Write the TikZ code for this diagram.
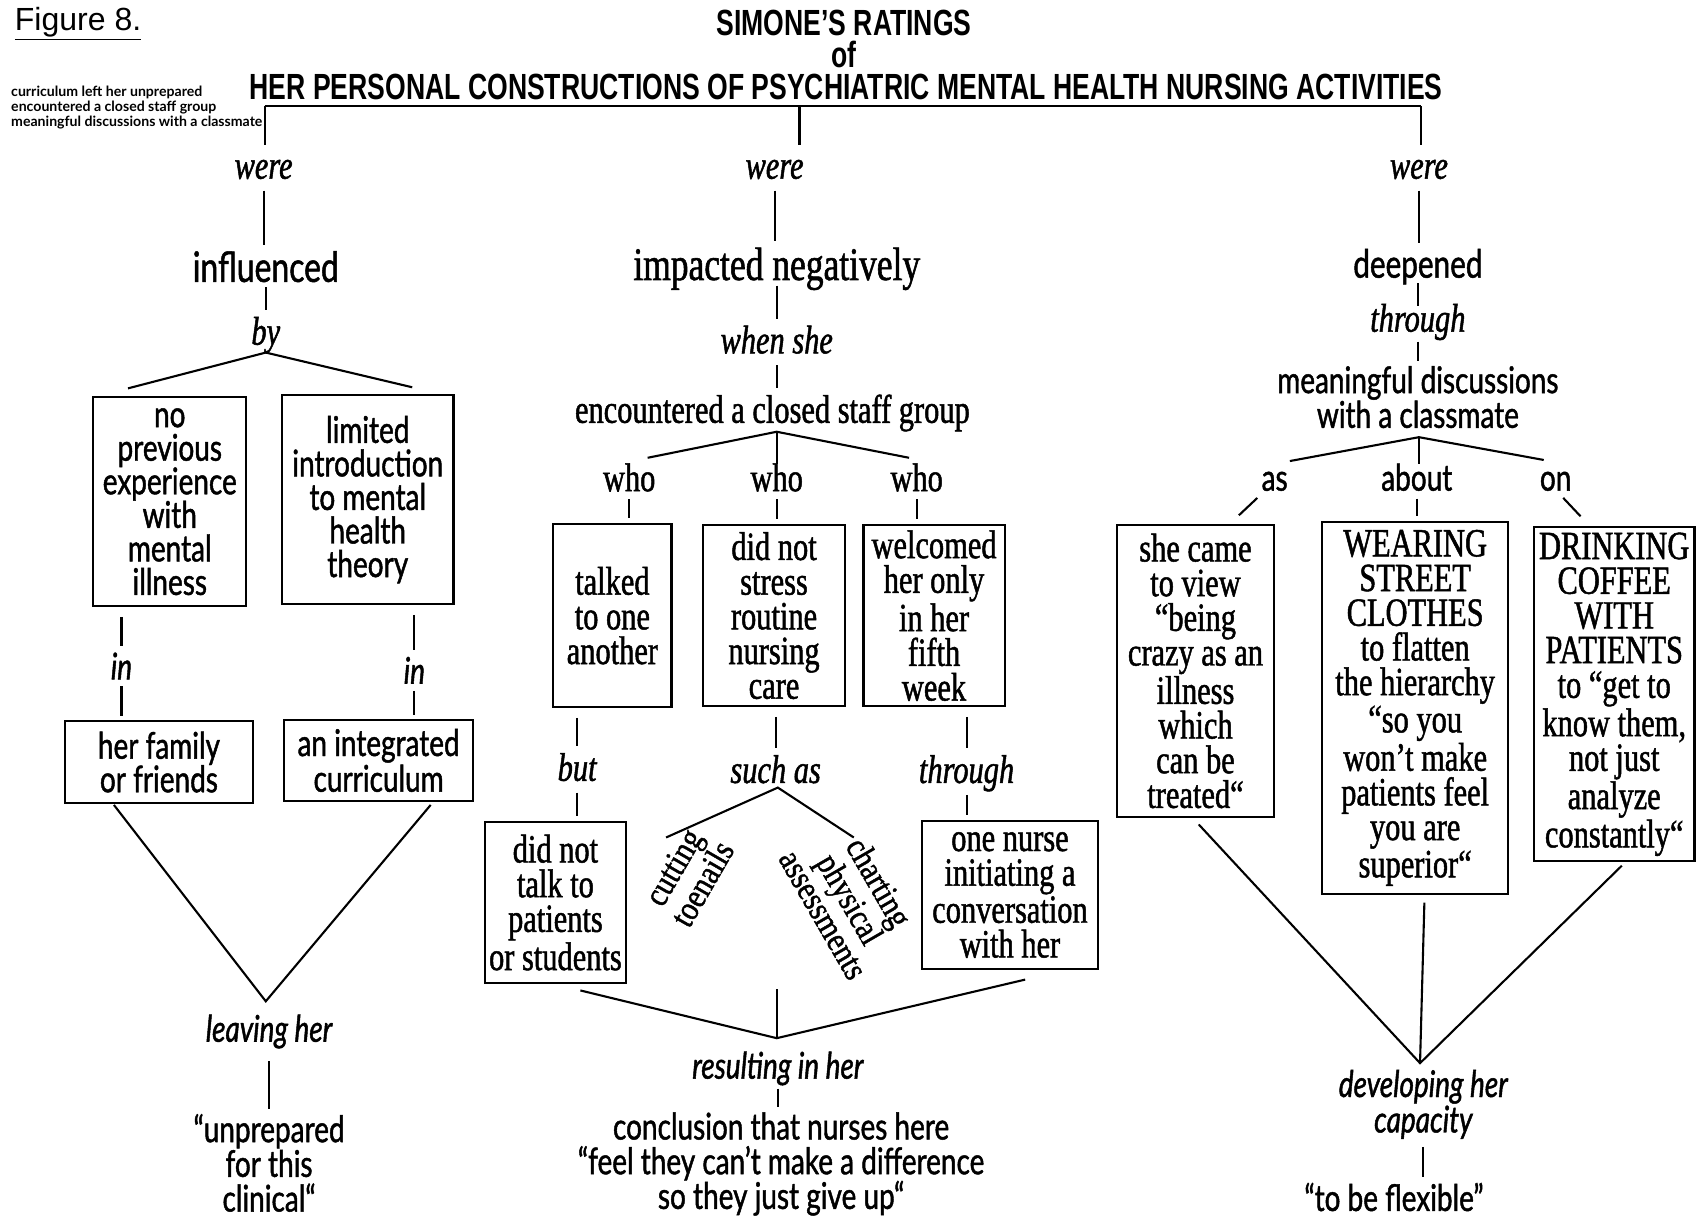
\documentclass[tikz,border=0pt]{standalone}
\usepackage{fontspec}
\setmainfont{Liberation Serif}
\newfontfamily\tmsf[FakeStretch=0.76,FakeBold=1.2]{Liberation Serif}
\newfontfamily\rotf[FakeStretch=0.85,FakeBold=1.2]{Liberation Serif}
\newfontfamily\optf[FakeStretch=0.76,FakeBold=1.2]{Lato}
\newfontfamily\ttlf[FakeStretch=0.73]{Liberation Sans}
\newfontfamily\hlvf{Liberation Sans}
\newfontfamily\minif{Lato}
\newcommand\fsz[2]{\fontsize{#1}{#2}\selectfont}
\tikzset{
  ln/.style={line width=1.1pt},
  cn/.style={ln, shorten <=5pt, shorten >=2.5pt},
  tight/.style={shorten <=2pt},
  tmsrm/.style={inner sep=0pt, text height=15.5pt, text depth=1pt, font=\tmsf\fsz{21}{18.2}},
  tmsit/.style={inner sep=0pt, text height=15.5pt, text depth=1pt, font=\tmsf\itshape\fsz{21}{18.2}},
  optrm/.style={inner sep=0pt, text height=15pt, text depth=1pt, font=\optf\fsz{19.3}{17.6}},
  optit/.style={inner sep=0pt, text height=15pt, text depth=1pt, font=\optf\itshape\fsz{19.3}{17.6}},
  opttext/.style={inner sep=0pt, align=center, font=\optf\fsz{19.3}{18.2}},
  optittext/.style={inner sep=0pt, align=center, font=\optf\itshape\fsz{19.3}{18.6}},
  ttl/.style={inner sep=0pt, font=\ttlf\bfseries\fsz{19.1}{20}},
  serifbox/.style 2 args={draw, line width=1.1pt, inner sep=0pt, align=center,
    minimum width=#1*0.02cm, minimum height=#2*0.02cm,
    font=\tmsf\fsz{21}{18.2}},
  sansbox/.style 2 args={draw, line width=1.1pt, inner sep=0pt, align=center,
    minimum width=#1*0.02cm, minimum height=#2*0.02cm,
    font=\optf\fsz{19.3}{17.6}},
  rottext/.style={inner sep=0pt, align=center, font=\rotf\fsz{18.2}{16.2}},
}
\begin{document}
\begin{tikzpicture}[x=0.02cm, y=-0.02cm]
\useasboundingbox (0,0) rectangle (1568,1121);

% ---------- heading ----------
\node[inner sep=0pt, font=\hlvf\fsz{16.8}{18}] (fig) at (72,22) {\underline{Figure 8.}};
\node[anchor=west, inner sep=0pt, align=left, font=\minif\bfseries\fsz{7.4}{6.3}] (legend) at (10,99)
  {curriculum left her unprepared\\encountered a closed staff group\\meaningful discussions with a classmate};
\node[ttl] (t1) at (778,21) {SIMONE’S RATINGS};
\node[ttl] (t2) at (778,50) {of};
\node[ttl] (t3) at (780,80) {HER PERSONAL CONSTRUCTIONS OF PSYCHIATRIC MENTAL HEALTH NURSING ACTIVITIES};

\coordinate (hubL) at (244,98);
\coordinate (hubM) at (737,98);
\coordinate (hubR) at (1310,98);

% ---------- left branch ----------
\node[tmsit] (w1) at (243,152) {were};
\node[inner sep=0pt, text height=16.5pt, text depth=0.7pt, font=\optf\fsz{22}{24}] (infl) at (245,246) {influenced};
\node[tmsit] (by) at (245,305) {by};
\node[sansbox={141}{193}] (A1) at (156.5,462.5) {no\\previous\\experience\\with\\mental\\illness};
\node[sansbox={158}{193}] (A2) at (339,460.5) {limited\\introduction\\to mental\\health\\theory};
\node[optit] (in1) at (112,614) {in};
\node[optit] (in2) at (382,618) {in};
\node[sansbox={173}{75}] (A3) at (146.5,702.5) {her family\\or friends};
\node[sansbox={174}{74}] (A4) at (349,701) {an integrated\\curriculum};
\node[optit] (leave) at (248,948) {leaving her};
\node[opttext] (unprep) at (248,1072) {“unprepared\\for this\\clinical“};

% ---------- middle branch ----------
\node[tmsit] (w2) at (714,152) {were};
\node[inner sep=0pt, text height=18pt, text depth=0.8pt, font=\tmsf\fsz{24.5}{26}] (imp) at (716,243) {impacted negatively};
\node[tmsit] (when) at (716,313) {when she};
\node[tmsrm] (enc) at (712,377) {encountered a closed staff group};
\node[tmsrm] (who1) at (580,440) {who};
\node[tmsrm] (who2) at (716,440) {who};
\node[tmsrm] (who3) at (845,440) {who};
\node[serifbox={109}{169}] (B1) at (564.5,567.5) {talked\\to one\\another};
\node[serifbox={131}{167}] (B2) at (713.5,567.5) {did not\\stress\\routine\\nursing\\care};
\node[serifbox={130}{167}] (B3) at (861,567.5) {welcomed\\her only\\in her\\fifth\\week};
\node[tmsit] (but) at (532,707) {but};
\node[tmsit] (such) at (715,709) {such as};
\node[tmsit] (thr2) at (891,709) {through};
\node[serifbox={130}{148}] (B4) at (512,832) {did not\\talk to\\patients\\or students};
\node[rottext, rotate=60] (cut) at (634,807) {cutting\\toenails};
\node[rottext, rotate=-60] (chart) at (785,828) {charting\\physical\\assessments};
\node[serifbox={162}{136}] (B5) at (931,825) {one nurse\\initiating a\\conversation\\with her};
\node[optit] (res) at (717,982) {resulting in her};
\node[opttext] (concl) at (720,1073) {conclusion that nurses here\\“feel they can’t make a difference\\so they just give up“};

% ---------- right branch ----------
\node[tmsit] (w3) at (1308,152) {were};
\node[inner sep=0pt, text height=15.5pt, text depth=0.7pt, font=\optf\fsz{20.5}{22}] (deep) at (1307,243) {deepened};
\node[tmsit] (thr3) at (1307,293) {through};
\node[opttext] (mean) at (1307,366) {meaningful discussions\\with a classmate};
\node[optrm] (as) at (1175,440) {as};
\node[optrm] (about) at (1306,440) {about};
\node[optrm] (on) at (1434,440) {on};
\node[serifbox={144}{269}] (C1) at (1102,618.5) {she came\\to view\\“being\\crazy as an\\illness\\which\\can be\\treated“};
\node[serifbox={171}{343}] (C2) at (1304.5,652.5) {WEARING\\STREET\\CLOTHES\\to flatten\\the hierarchy\\“so you\\won’t make\\patients feel\\you are\\superior“};
\node[serifbox={148}{308}] (C3) at (1488,640) {DRINKING\\COFFEE\\WITH\\PATIENTS\\to “get to\\know them,\\not just\\analyze\\constantly“};
\node[optittext] (dev) at (1312,1018) {developing her\\capacity};
\node[optrm] (flex) at (1285,1104) {“to be flexible”};

% ---------- connectors: heading bracket ----------
\draw[ln] (hubL) -- (hubR);
\draw[ln, shorten >=2pt] (hubL) -- (hubL |- w1.north);
\draw[ln, shorten >=2pt] (hubM) -- (hubM |- w2.north);
\draw[ln, shorten >=2pt] (hubR) -- (hubR |- w3.north);

% ---------- connectors: left ----------
\draw[cn] (w1) -- (w1 |- infl.north);
\draw[cn, tight] (infl) -- (infl |- by.north);
\coordinate (byap) at (245,325);
\coordinate (byl) at (118,358);
\coordinate (byr) at (380,357);
\draw[ln] (byl) -- (byap) -- (byr);
\draw[cn] (A1.south -| in1) -- (in1);
\draw[cn, shorten <=2.5pt] (in1) -- (in1 |- A3.north);
\draw[cn] (A2.south -| in2) -- (in2);
\draw[cn, shorten <=2.5pt] (in2) -- (in2 |- A4.north);
\coordinate (a3f) at (105,742);
\coordinate (a4f) at (397,742);
\coordinate (leap) at (245,923);
\draw[ln] (a3f) -- (leap) -- (a4f);
\draw[cn, shorten <=9pt] (leave) -- (leave |- unprep.north);

% ---------- connectors: middle ----------
\draw[cn] (w2) -- (w2 |- imp.north);
\draw[cn, tight] (imp) -- (imp |- when.north);
\draw[cn] (when) -- (when |- enc.north);
\coordinate (encap) at (716,398);
\coordinate (encl) at (597,422);
\coordinate (encr) at (838,422);
\coordinate (encd) at (716,428);
\draw[ln] (encl) -- (encap) -- (encr);
\draw[ln] (encap) -- (encd);
\draw[cn, shorten <=3pt] (who1) -- (who1 |- B1.north);
\draw[cn, shorten <=3pt] (who2) -- (who2 |- B2.north);
\draw[cn, shorten <=3pt] (who3) -- (who3 |- B3.north);
\draw[cn] (B1.south -| but) -- (but);
\draw[cn] (but) -- (but |- B4.north);
\draw[cn] (B2.south -| such) -- (such);
\coordinate (suap) at (717,726);
\coordinate (sul) at (614,772);
\coordinate (sur) at (787,772);
\draw[ln] (sul) -- (suap) -- (sur);
\draw[cn] (B3.south -| thr2) -- (thr2);
\draw[cn] (thr2) -- (thr2 |- B5.north);
\coordinate (b4f) at (535,913);
\coordinate (b5f) at (945,903);
\coordinate (midf) at (716,912);
\coordinate (resap) at (716,957);
\draw[ln] (b4f) -- (resap) -- (b5f);
\draw[ln] (midf) -- (resap);
\draw[cn, shorten <=4pt] (res) -- (res |- concl.north);

% ---------- connectors: right ----------
\draw[cn] (w3) -- (w3 |- deep.north);
\draw[ln, shorten <=2pt, shorten >=-2pt] (deep) -- (deep |- thr3.north);
\draw[cn, shorten <=4pt] (thr3) -- (thr3 |- mean.north);
\coordinate (mnap) at (1308,403);
\coordinate (mnl) at (1189,425);
\coordinate (mnr) at (1423,424);
\coordinate (mnd) at (1308,428);
\draw[ln] (mnl) -- (mnap) -- (mnr);
\draw[ln] (mnap) -- (mnd);
\coordinate (asa) at (1159,459);
\coordinate (asb) at (1142,475);
\draw[ln] (asa) -- (asb);
\draw[cn, shorten <=3pt] (about) -- (about |- C2.north);
\coordinate (ona) at (1441,459);
\coordinate (onb) at (1457,476);
\draw[ln] (ona) -- (onb);
\coordinate (c1f) at (1105,760);
\coordinate (c2f) at (1313,832);
\coordinate (c3f) at (1495,798);
\coordinate (devap) at (1309,980);
\draw[ln] (c1f) -- (devap) -- (c3f);
\draw[ln] (c2f) -- (devap);
\draw[cn, shorten <=4pt] (dev) -- (dev |- flex.north);
\end{tikzpicture}
\end{document}
